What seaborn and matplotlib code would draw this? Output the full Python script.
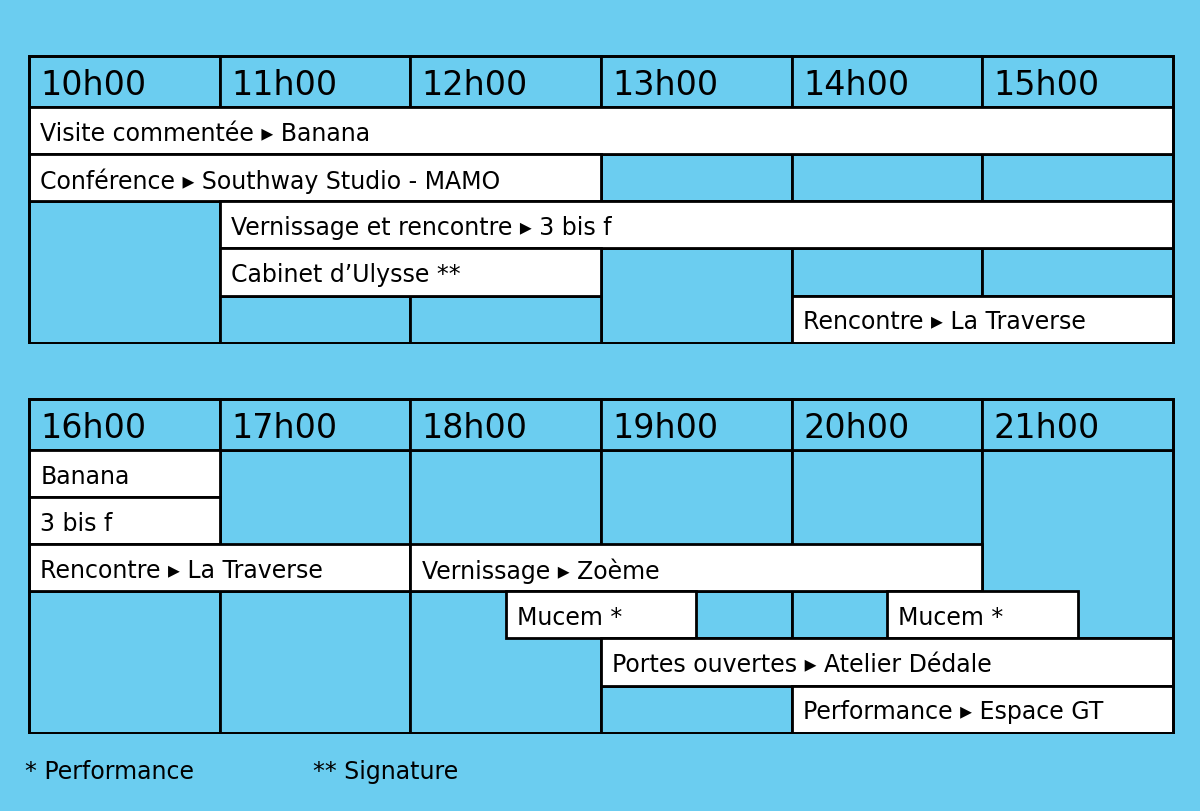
import matplotlib.pyplot as plt
import seaborn as sns

sns.set_theme(style="white")
plt.rcParams['font.family'] = ['DejaVu Sans']

BG = '#6BCDF0'

top_hours = ['10h00', '11h00', '12h00', '13h00', '14h00', '15h00']
top_events = [
    (10, 16, 0, 'Visite commentée ▸ Banana'),
    (10, 13, 1, 'Conférence ▸ Southway Studio - MAMO'),
    (11, 16, 2, 'Vernissage et rencontre ▸ 3 bis f'),
    (11, 13, 3, 'Cabinet d’Ulysse **'),
    (14, 16, 4, 'Rencontre ▸ La Traverse'),
]
top_cells = [(10, 11, 2, 5), (13, 14, 1, 2), (14, 15, 1, 2), (15, 16, 1, 2),
             (13, 14, 3, 5), (14, 15, 3, 4), (15, 16, 3, 4),
             (11, 12, 4, 5), (12, 13, 4, 5)]

bot_hours = ['16h00', '17h00', '18h00', '19h00', '20h00', '21h00']
bot_events = [
    (16, 17, 0, 'Banana'),
    (16, 17, 1, '3 bis f'),
    (16, 18, 2, 'Rencontre ▸ La Traverse'),
    (18, 21, 2, 'Vernissage ▸ Zoème'),
    (18.5, 19.5, 3, 'Mucem *'),
    (20.5, 21.5, 3, 'Mucem *'),
    (19, 22, 4, 'Portes ouvertes ▸ Atelier Dédale'),
    (20, 22, 5, 'Performance ▸ Espace GT'),
]
bot_cells = [(17, 18, 0, 3), (18, 19, 0, 3), (19, 20, 0, 3), (20, 21, 0, 3),
             (21, 22, 0, 4), (16, 17, 3, 6), (17, 18, 3, 6), (18, 19, 3, 6),
             (19, 20, 3, 4), (20, 21, 3, 4), (19, 20, 5, 6)]

HDR = 1.08
LW = 2.0


def panel(ax, hours, events, cells, h0, nrows):
    ax.set_facecolor(BG)
    # background grid cells
    for a, b, r0, r1 in cells:
        ax.barh(r0, b - a, left=a, height=r1 - r0, align='edge',
                color=BG, edgecolor='black', linewidth=LW, zorder=1)
    # header
    for i, lab in enumerate(hours):
        ax.barh(-HDR, 1, left=h0 + i, height=HDR, align='edge',
                color=BG, edgecolor='black', linewidth=LW, zorder=1)
        ax.text(h0 + i + 0.06, -HDR / 2 + 0.05, lab, fontsize=24,
                va='center', ha='left', color='black', zorder=3)
    # events
    for a, b, r, lab in events:
        ax.barh(r, b - a, left=a, height=1, align='edge',
                color='white', edgecolor='black', linewidth=LW, zorder=2)
        ax.text(a + 0.06, r + 0.55, lab, fontsize=17,
                va='center', ha='left', color='black', zorder=3)
    ax.barh(-HDR, 6, left=h0, height=nrows + HDR, align='edge',
            fill=False, edgecolor='black', linewidth=LW, zorder=4)
    ax.set_xlim(h0 - 0.01, h0 + 6.01)
    ax.set_ylim(nrows + 0.03, -HDR - 0.03)
    ax.axis('off')


fig = plt.figure(figsize=(12, 8.12), dpi=100, facecolor=BG)
ax1 = fig.add_axes([27 / 1200, 1 - 345 / 812, 1148 / 1200, 289 / 812])
ax2 = fig.add_axes([27 / 1200, 1 - 735 / 812, 1148 / 1200, 336 / 812])
panel(ax1, top_hours, top_events, top_cells, 10, 5)
panel(ax2, bot_hours, bot_events, bot_cells, 16, 6)

fig.text(25 / 1200, 1 - 772 / 812, '* Performance', fontsize=17, va='center', color='black')
fig.text(313 / 1200, 1 - 772 / 812, '** Signature', fontsize=17, va='center', color='black')

fig.savefig('out.png', dpi=100, facecolor=BG)
